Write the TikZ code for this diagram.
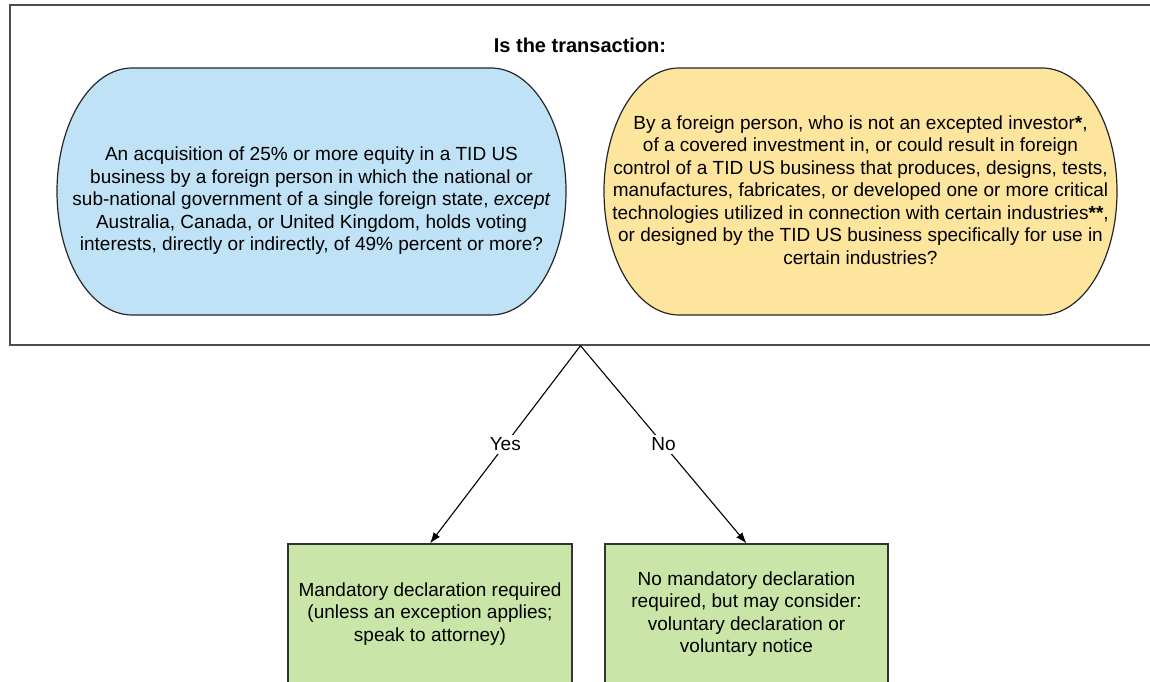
\documentclass[tikz,border=0pt]{standalone}
\usepackage{fontspec}
\setmainfont{Liberation Sans}
\usetikzlibrary{positioning, arrows.meta}

\definecolor{acqblue}{RGB}{192,226,246}
\definecolor{techyellow}{RGB}{253,229,158}
\definecolor{declgreen}{RGB}{201,230,168}

\begin{document}
\begin{tikzpicture}[x=1pt, y=1pt,
		question/.style={align=center, font=\fontsize{19}{22.5}\selectfont},
		stadium/.style={draw=black!85, line width=1.2pt},
		result/.style={draw=black!80, line width=1.2pt, fill=declgreen, minimum height=140, inner sep=0pt, align=center, font=\fontsize{19}{22.5}\selectfont},
		choice/.style={-{Latex[length=11pt,width=8pt]}, line width=1.1pt},
		answer/.style={fill=white, font=\fontsize{19}{22}\selectfont, inner sep=3pt}]
				\useasboundingbox (0,0) rectangle (1150,681);
				
				\node[draw=black!70, line width=1.4pt, minimum width=1141, minimum height=340, inner sep=0pt] (frame) at (580.5,506) {};
				\node[font=\bfseries\fontsize{20}{24}\selectfont] (title) at (580,636) {Is the transaction:};
				
				\filldraw[stadium, fill=acqblue] (132,613) -- (491,613) arc[start angle=90, end angle=-90, x radius=75, y radius=123.5] -- (132,366) arc[start angle=270, end angle=90, x radius=75, y radius=123.5] -- cycle;
				\node[question] (acq) at (311.5,480) {An acquisition of 25\% or more equity in a TID US\\business by a foreign person in which the national or\\sub-national government of a single foreign state, \textit{except}\\Australia, Canada, or United Kingdom, holds voting\\interests, directly or indirectly, of 49\% percent or more?};
				
				\filldraw[stadium, fill=techyellow] (679,613) -- (1042,613) arc[start angle=90, end angle=-90, x radius=75, y radius=123.5] -- (679,366) arc[start angle=270, end angle=90, x radius=75, y radius=123.5] -- cycle;
				\node[question] (tech) at (860.5,491) {By a foreign person, who is not an excepted investor\textbf{*},\\of a covered investment in, or could result in foreign\\control of a TID US business that produces, designs, tests,\\manufactures, fabricates, or developed one or more critical\\technologies utilized in connection with certain industries\textbf{**},\\or designed by the TID US business specifically for use in\\certain industries?};
				
				\node[result, minimum width=284] (mand) at (430,67) {Mandatory declaration required\\(unless an exception applies;\\speak to attorney)};
				\node[result, minimum width=283] (vol) at (746.5,67) {No mandatory declaration\\required, but may consider:\\voluntary declaration or\\voluntary notice};
				
				\draw[choice] (frame.south) -- node[answer] {Yes} (mand.north);
				\draw[choice] (frame.south) -- node[answer] {No} (vol.north);
			\end{tikzpicture}
\end{document}
